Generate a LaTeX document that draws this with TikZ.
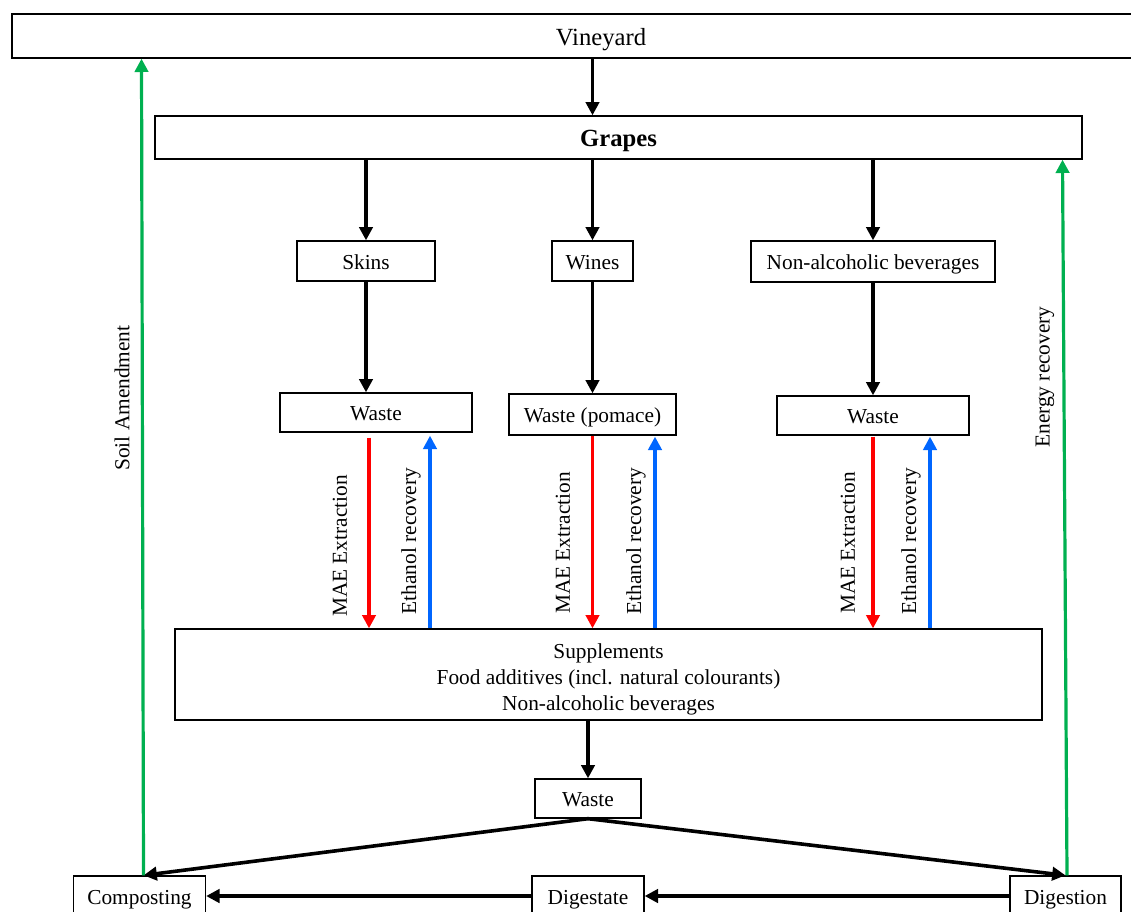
\documentclass[tikz,border=0pt]{standalone}
\usepackage{fontspec}
\setmainfont{Liberation Serif}
\usetikzlibrary{arrows.meta,calc}

\tikzset{every picture/.style={line width=0.75pt}}

\begin{document}
\begin{tikzpicture}[x=0.75pt,y=0.75pt,yscale=-1,xscale=1,
  box/.style={draw, line width=1pt, inner sep=0pt, align=center, text height=12pt, text depth=0pt, font=\fontsize{16}{19.5}\selectfont},
  bigbox/.style={box, text height=14pt, font=\fontsize{18.5}{22}\selectfont},
  listbox/.style={draw, line width=1pt, inner sep=0pt, align=center, font=\fontsize{16}{19.5}\selectfont},
  lbl/.style={rotate=90, inner sep=0pt, font=\fontsize{16}{19}\selectfont},
  flow/.style={line width=2.7pt, -{Triangle[width=10pt,length=10pt]}},
  mae/.style={flow, line width=2.4pt, color={rgb, 255:red, 255; green, 0; blue, 0 }},
  ethanol/.style={flow, line width=2.4pt, color={rgb, 255:red, 0; green, 102; blue, 255 }},
  greenback/.style={flow, line width=2.4pt, color={rgb, 255:red, 0; green, 176; blue, 80 }}]
%set diagram to the size of the figure
\useasboundingbox (0,0) rectangle (1131,911);
\clip (0,0) rectangle (1131,911);

%Boxes
\node [bigbox, minimum width=883.5pt, minimum height=33pt] (vineyard) at (601,36) {Vineyard};
\node [bigbox, minimum width=695.25pt, minimum height=32.25pt] (grapes) at (618.5,137.5) {\textbf{Grapes}};
\node [box, minimum width=103.5pt, minimum height=30pt] (skins) at (366,261) {Skins};
\node [box, minimum width=60.75pt, minimum height=30pt] (wines) at (592.5,261) {Wines};
\node [box, minimum width=183pt, minimum height=30.75pt] (nab) at (873,261.5) {Non-alcoholic beverages};
\node [box, minimum width=144pt, minimum height=29.25pt] (waste1) at (376,412.5) {Waste};
\node [box, minimum width=125.25pt, minimum height=30.75pt] (pomace) at (592.5,414.5) {Waste (pomace)};
\node [box, minimum width=144pt, minimum height=29.25pt] (waste3) at (873,415.5) {Waste};
\node [listbox, minimum width=650.25pt, minimum height=68.25pt] (supp) at (608.5,674.5) {\rule{0pt}{19pt}Supplements\\Food additives (incl. natural colourants)\\Non-alcoholic beverages};
\node [box, minimum width=79.5pt, minimum height=29.25pt] (waste4) at (588,798.5) {Waste};
\node [box, minimum width=99pt, minimum height=30pt] (compost) at (139.5,896) {Composting};
\node [box, minimum width=84pt, minimum height=30pt] (digestate) at (588,896) {Digestate};
\node [box, minimum width=83.25pt, minimum height=30pt] (digestion) at (1065.5,896) {Digestion};

%Straight Lines
\draw [flow] (vineyard.south -| wines) -- (grapes.north -| wines);
\draw [flow] (grapes.south -| skins) -- (skins.north);
\draw [flow] (grapes.south -| wines) -- (wines.north);
\draw [flow] (grapes.south -| nab) -- (nab.north);
\draw [flow] (skins.south) -- (waste1.north -| skins);
\draw [flow] (wines.south) -- (pomace.north -| wines);
\draw [flow] (nab.south) -- (waste3.north -| nab);

%Extraction and recovery
\draw [mae, shorten <=3.75pt] ($(waste1.south)+(-7,0)$) -- ($(waste1.south |- supp.north)+(-7,0)$);
\draw [ethanol, shorten >=2.25pt] ($(waste1.south |- supp.north)+(54,0)$) -- ($(waste1.south)+(54,0)$);
\draw [mae] (pomace.south) -- (pomace.south |- supp.north);
\draw [ethanol, shorten >=0.75pt] ($(pomace.south |- supp.north)+(62.5,0)$) -- ($(pomace.south)+(62.5,0)$);
\draw [mae, shorten <=0.75pt] (waste3.south) -- (waste3.south |- supp.north);
\draw [ethanol, shorten >=0.75pt] ($(waste3.south |- supp.north)+(57,0)$) -- ($(waste3.south)+(57,0)$);

% Text Node
\node [lbl] (mae1) at (340,546) {MAE Extraction};
\node [lbl] (eth1) at (411,541) {Ethanol recovery};
\node [lbl] (mae2) at (563,543) {MAE Extraction};
\node [lbl] (eth2) at (636,541) {Ethanol recovery};
\node [lbl] (mae3) at (848,543) {MAE Extraction};
\node [lbl] (eth3) at (911,541) {Ethanol recovery};
\node [lbl] (soil) at (122,398) {Soil Amendment};
\node [lbl] (energy) at (1045,377) {Energy recovery};

%Waste treatment
\draw [flow] (supp.south -| waste4) -- (waste4.north);
\draw [flow] (waste4.south) -- ($(compost.north)+(4,0)$);
\draw [flow] (waste4.south) -- (digestion.north);
\draw [flow] (digestion.west) -- (digestate.east);
\draw [flow] (digestate.west) -- (compost.east);
\draw [greenback] ($(compost.north)+(4,0)$) -- ($(compost.north |- vineyard.south)+(2,0)$);
\draw [greenback] ($(digestion.north)+(1.5,0)$) -- ($(digestion.north |- grapes.south)+(-3,0)$);

\end{tikzpicture}
\end{document}
